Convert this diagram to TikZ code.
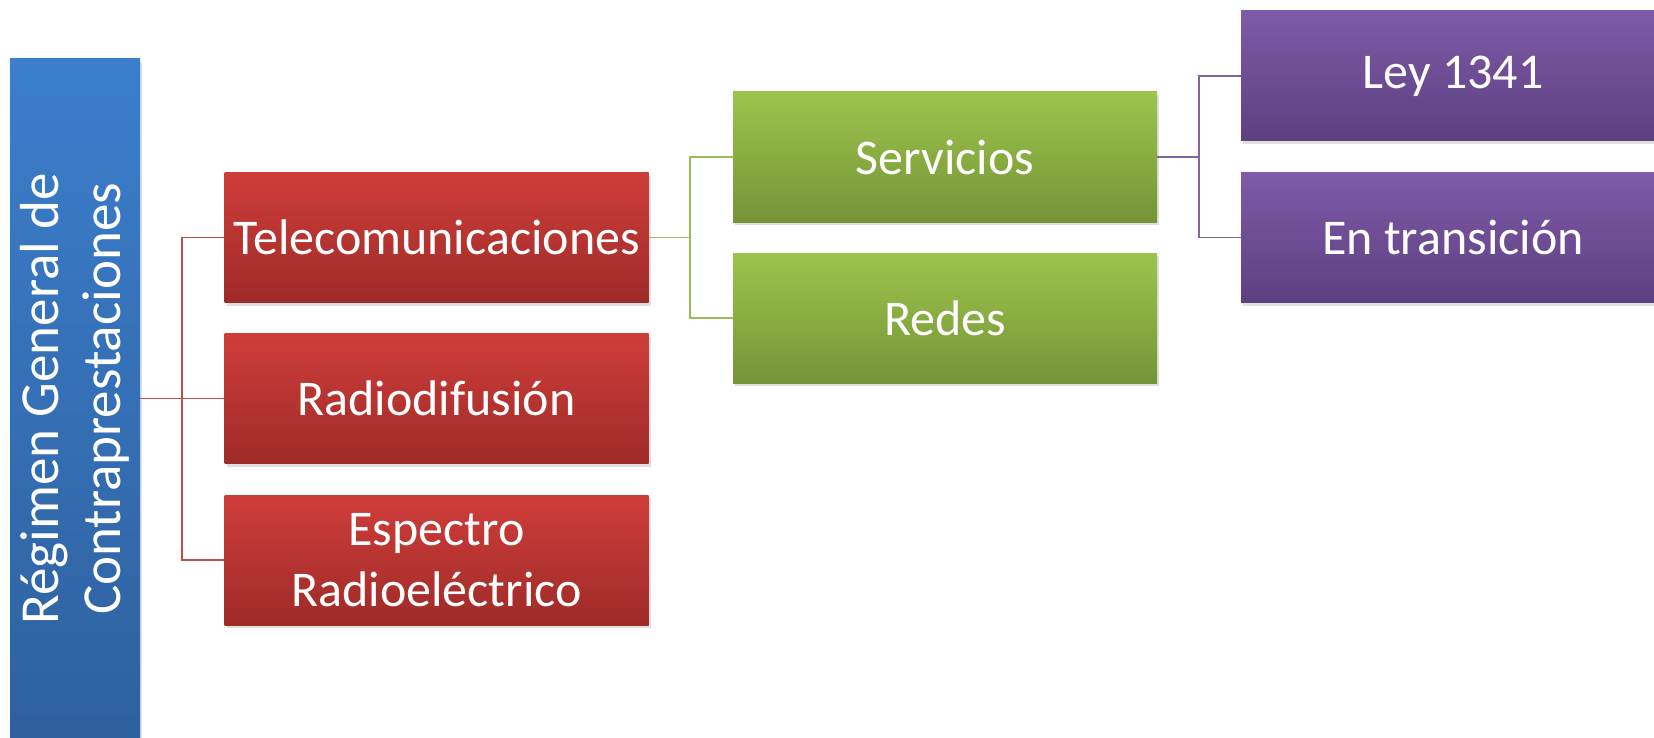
\documentclass[tikz,border=0pt]{standalone}
\usepackage{fontspec}
\setmainfont{Carlito}
\usetikzlibrary{shadows}
\definecolor{redT}{HTML}{CF3D3A}
\definecolor{redB}{HTML}{9E2B28}
\definecolor{greenT}{HTML}{9DC44B}
\definecolor{greenB}{HTML}{759438}
\definecolor{purT}{HTML}{7E5AA8}
\definecolor{purB}{HTML}{5D4080}
\definecolor{bluT}{HTML}{3B7ECC}
\definecolor{bluB}{HTML}{2D5D99}
\definecolor{redL}{HTML}{C0504D}
\definecolor{greenL}{HTML}{9BBB59}
\definecolor{purL}{HTML}{8064A2}
\tikzset{
  box/.style={rectangle, minimum width=212pt, minimum height=65pt, inner sep=0pt,
    text=white, align=center, font=\fontsize{25}{30.5}\selectfont,
    drop shadow={opacity=0.25, shadow xshift=1pt, shadow yshift=-1.5pt}},
  redbox/.style={box, top color=redT, bottom color=redB},
  greenbox/.style={box, top color=greenT, bottom color=greenB},
  purbox/.style={box, top color=purT, bottom color=purB},
  conn/.style={line width=0.9pt},
}
\begin{document}
\begin{tikzpicture}[x=0.5pt,y=-0.5pt]
\clip (0,0) rectangle (1654,738);
\fill[white] (0,0) rectangle (1654,738);
% root bar
\node[rectangle, minimum width=65pt, minimum height=380pt, inner sep=0pt,
  top color=bluT, bottom color=bluB,
  drop shadow={opacity=0.25, shadow xshift=1pt, shadow yshift=-1.5pt}] (root) at (75,439) {};
\node[rotate=90, text=white, align=center, font=\fontsize{27.5}{31}\selectfont] (roottext) at (75,399)
  {Régimen General de\\Contraprestaciones};
% level 1
\node[redbox] (tele) at (436.5,237.5) {Telecomunicaciones};
\node[redbox] (radio) at (436.5,398.5) {Radiodifusión};
\node[redbox] (esp) at (436.5,560) {Espectro\\Radioeléctrico};
% level 2
\node[greenbox] (serv) at (945,157) {Servicios};
\node[greenbox] (redes) at (945,318) {Redes};
% level 3
\node[purbox] (ley) at (1453,76) {Ley 1341};
\node[purbox] (trans) at (1453,237.5) {En transición};
% connectors
\coordinate (busR) at (182,0);
\coordinate (busG) at (690,0);
\coordinate (busP) at (1199,0);
\draw[conn, redL] (root.east |- radio.west) -- (radio.west);
\draw[conn, redL] (tele.west) -- (tele.west -| busR) -- (esp.west -| busR) -- (esp.west);
\draw[conn, greenL] (tele.east) -- (tele.east -| busG);
\draw[conn, greenL] (serv.west) -- (serv.west -| busG) -- (redes.west -| busG) -- (redes.west);
\draw[conn, purL] (serv.east) -- (serv.east -| busP);
\draw[conn, purL] (ley.west) -- (ley.west -| busP) -- (trans.west -| busP) -- (trans.west);
\end{tikzpicture}
\end{document}
